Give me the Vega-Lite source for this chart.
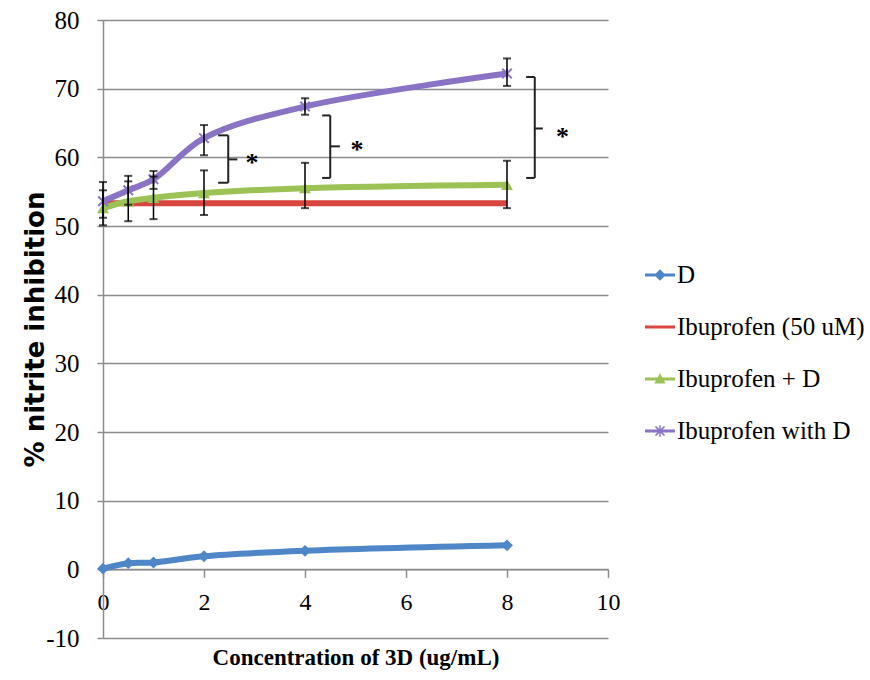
{
  "$schema": "https://vega.github.io/schema/vega-lite/v6.json",
  "width": 505,
  "height": 618,
  "autosize": {"type": "none"},
  "padding": {"left": 103, "top": 20, "right": 262, "bottom": 42},
  "background": "white",
  "config": {
    "view": {"stroke": null},
    "font": "Liberation Serif"
  },
  "datasets": {
    "series": [
      {"series": "D", "x": 0, "y": 0.1},
      {"series": "D", "x": 0.5, "y": 0.9},
      {"series": "D", "x": 1, "y": 1.0},
      {"series": "D", "x": 2, "y": 1.9},
      {"series": "D", "x": 4, "y": 2.7},
      {"series": "D", "x": 8, "y": 3.5},
      {"series": "Ibuprofen (50 uM)", "x": 0, "y": 53.3},
      {"series": "Ibuprofen (50 uM)", "x": 8, "y": 53.3},
      {"series": "Ibuprofen + D", "x": 0, "y": 52.6, "lo": 50.1, "hi": 55.2},
      {"series": "Ibuprofen + D", "x": 0.5, "y": 53.6, "lo": 50.7, "hi": 56.5},
      {"series": "Ibuprofen + D", "x": 1, "y": 54.1, "lo": 51.0, "hi": 57.2},
      {"series": "Ibuprofen + D", "x": 2, "y": 54.8, "lo": 51.6, "hi": 58.1},
      {"series": "Ibuprofen + D", "x": 4, "y": 55.5, "lo": 52.6, "hi": 59.2},
      {"series": "Ibuprofen + D", "x": 8, "y": 56.0, "lo": 52.6, "hi": 59.5},
      {"series": "Ibuprofen with D", "x": 0, "y": 53.6, "lo": 51.2, "hi": 56.4},
      {"series": "Ibuprofen with D", "x": 0.5, "y": 55.2, "lo": 53.1, "hi": 57.3},
      {"series": "Ibuprofen with D", "x": 1, "y": 56.8, "lo": 55.4, "hi": 58.0},
      {"series": "Ibuprofen with D", "x": 2, "y": 62.8, "lo": 60.3, "hi": 64.7},
      {"series": "Ibuprofen with D", "x": 4, "y": 67.4, "lo": 66.2, "hi": 68.6},
      {"series": "Ibuprofen with D", "x": 8, "y": 72.2, "lo": 70.4, "hi": 74.4}
    ],
    "brackets": [
      {"x": 2.28, "x2": 2.48, "y": 63.2, "y2": 63.2},
      {"x": 2.48, "x2": 2.48, "y": 63.2, "y2": 56.3},
      {"x": 2.28, "x2": 2.48, "y": 56.3, "y2": 56.3},
      {"x": 2.48, "x2": 2.66, "y": 59.7, "y2": 59.7},
      {"x": 4.34, "x2": 4.5, "y": 66.1, "y2": 66.1},
      {"x": 4.5, "x2": 4.5, "y": 66.1, "y2": 57.0},
      {"x": 4.34, "x2": 4.5, "y": 57.0, "y2": 57.0},
      {"x": 4.5, "x2": 4.69, "y": 61.6, "y2": 61.6},
      {"x": 8.38, "x2": 8.55, "y": 71.7, "y2": 71.7},
      {"x": 8.55, "x2": 8.55, "y": 71.7, "y2": 57.0},
      {"x": 8.38, "x2": 8.55, "y": 57.0, "y2": 57.0},
      {"x": 8.55, "x2": 8.71, "y": 64.2, "y2": 64.2}
    ],
    "stars": [
      {"x": 2.95, "y": 60.0, "label": "*"},
      {"x": 5.03, "y": 62.0, "label": "*"},
      {"x": 9.1, "y": 63.8, "label": "*"}
    ]
  },
  "layer": [
    {
      "data": {"name": "series"},
      "mark": {"type": "line", "strokeWidth": 6, "interpolate": "catmull-rom"},
      "encoding": {
        "x": {
          "field": "x", "type": "quantitative",
          "scale": {"domain": [0, 10], "nice": false},
          "axis": {
            "values": [0, 2, 4, 6, 8, 10],
            "offset": -68.67,
            "grid": false,
            "labelFlush": false,
            "domainColor": "#8c8c8c",
            "domainWidth": 1.5,
            "tickColor": "#8c8c8c",
            "tickWidth": 1.5,
            "tickSize": 8,
            "labelFont": "Liberation Serif",
            "labelFontSize": 24,
            "labelColor": "black",
            "labelPadding": 13,
            "title": "Concentration of 3D (ug/mL)",
            "titleFont": "Liberation Serif",
            "titleFontSize": 23,
            "titleFontWeight": "bold",
            "titleColor": "black",
            "titlePadding": 32
          }
        },
        "y": {
          "field": "y", "type": "quantitative",
          "title": "% nitrite inhibition",
          "scale": {"domain": [-10, 80], "nice": false},
          "axis": {
            "values": [-10, 0, 10, 20, 30, 40, 50, 60, 70, 80],
            "labelExpr": "'' + datum.value",
            "labelFlush": false,
            "grid": true,
            "gridColor": "#8c8c8c",
            "gridWidth": 1.5,
            "domainColor": "#8c8c8c",
            "domainWidth": 1.5,
            "tickColor": "#8c8c8c",
            "tickWidth": 1.5,
            "tickSize": 6,
            "labelFont": "Liberation Serif",
            "labelFontSize": 25,
            "labelColor": "black",
            "labelPadding": 18,
            "titleFont": "DejaVu Sans",
            "titleFontSize": 26,
            "titleFontWeight": "bold",
            "titleColor": "black",
            "titleX": -55,
            "titleBaseline": "bottom"
          }
        },
        "color": {
          "field": "series", "type": "nominal",
          "scale": {
            "domain": ["D", "Ibuprofen (50 uM)", "Ibuprofen + D", "Ibuprofen with D"],
            "range": ["#4f86c8", "#d9463f", "#9cc255", "#8a72c4"]
          },
          "legend": {
            "title": null,
            "orient": "none",
            "legendX": 542,
            "legendY": 240,
            "labelFont": "Liberation Serif",
            "labelFontSize": 25,
            "labelColor": "black",
            "labelOffset": 2,
            "labelLimit": 300,
            "symbolSize": 900,
            "rowPadding": 24,
            "encode": {
              "symbols": {
                "update": {
                  "shape": {"signal": "datum.value == 'D' ? 'M-1,-0.1H1V0.1H-1Z M0,-0.38L0.38,0L0,0.38L-0.38,0Z' : datum.value == 'Ibuprofen (50 uM)' ? 'M-1,-0.1H1V0.1H-1Z' : datum.value == 'Ibuprofen + D' ? 'M-1,-0.1H1V0.1H-1Z M0,-0.38L0.38,0.3L-0.38,0.3Z' : 'M-1,-0.1H1V0.1H-1Z M-0.34,-0.26L-0.26,-0.34L0.34,0.26L0.26,0.34Z M0.26,-0.34L0.34,-0.26L-0.26,0.34L-0.34,0.26Z M-0.05,-0.38H0.05V0.38H-0.05Z'"},
                  "fill": {"scale": "color", "field": "value"},
                  "stroke": {"value": "transparent"},
                  "strokeWidth": {"value": 0},
                  "opacity": {"value": 1},
                  "size": {"value": 900}
                }
              }
            }
          }
        },
        "order": {"field": "x", "type": "quantitative"}
      }
    },
    {
      "data": {"name": "series"},
      "transform": [{"filter": "datum.series == 'D' || datum.series == 'Ibuprofen + D'"}],
      "mark": {"type": "point", "filled": true, "size": 140, "opacity": 1, "strokeWidth": 1},
      "encoding": {
        "x": {"field": "x", "type": "quantitative"},
        "y": {"field": "y", "type": "quantitative", "title": "% nitrite inhibition"},
        "color": {"field": "series", "type": "nominal"},
        "shape": {
          "field": "series", "type": "nominal",
          "scale": {"domain": ["D", "Ibuprofen + D"], "range": ["diamond", "triangle-up"]},
          "legend": null
        }
      }
    },
    {
      "data": {"name": "series"},
      "transform": [{"filter": "datum.series == 'Ibuprofen with D'"}],
      "mark": {"type": "point", "filled": false, "size": 90, "opacity": 1, "strokeWidth": 2, "shape": "M-1,-1L1,1M-1,1L1,-1M0,-1L0,1"},
      "encoding": {
        "x": {"field": "x", "type": "quantitative"},
        "y": {"field": "y", "type": "quantitative", "title": "% nitrite inhibition"},
        "color": {"field": "series", "type": "nominal"}
      }
    },
    {
      "data": {"name": "series"},
      "transform": [{"filter": "isValid(datum.lo)"}],
      "mark": {"type": "errorbar", "color": "black", "ticks": {"size": 8, "thickness": 2}, "rule": {"strokeWidth": 1.5}},
      "encoding": {
        "x": {"field": "x", "type": "quantitative"},
        "y": {"field": "lo", "type": "quantitative", "title": "% nitrite inhibition"},
        "y2": {"field": "hi"}
      }
    },
    {
      "data": {"name": "brackets"},
      "mark": {"type": "rule", "color": "#222222", "strokeWidth": 2},
      "encoding": {
        "x": {"field": "x", "type": "quantitative"},
        "x2": {"field": "x2"},
        "y": {"field": "y", "type": "quantitative", "title": "% nitrite inhibition"},
        "y2": {"field": "y2"}
      }
    },
    {
      "data": {"name": "stars"},
      "mark": {"type": "text", "font": "Liberation Serif", "fontSize": 26, "fontWeight": "bold", "color": "black", "baseline": "middle", "align": "center", "dy": 6},
      "encoding": {
        "x": {"field": "x", "type": "quantitative"},
        "y": {"field": "y", "type": "quantitative", "title": "% nitrite inhibition"},
        "text": {"field": "label"}
      }
    }
  ]
}
